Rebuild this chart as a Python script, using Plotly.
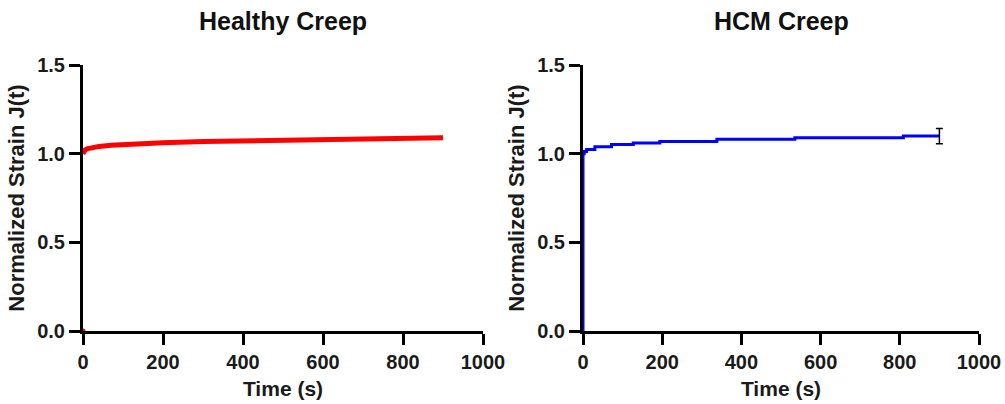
import plotly.graph_objects as go

# Healthy creep (mean curve)
healthy_t = [0, 2, 5, 10, 20, 40, 70, 100, 150, 200, 300, 400, 500, 600, 700, 800, 900]
healthy_j = [1.0, 1.012, 1.02, 1.027, 1.034, 1.041, 1.047, 1.052, 1.058, 1.062, 1.068,
             1.072, 1.076, 1.080, 1.084, 1.087, 1.090]

# HCM creep (step-like curve)
hcm_t = [0, 0, 3, 9, 30, 72, 127, 194, 338, 535, 809, 900]
hcm_j = [0.0, 1.0, 1.012, 1.024, 1.039, 1.052, 1.06, 1.069, 1.081, 1.09, 1.099, 1.099]
hcm_err_t = [900]
hcm_err_j = [1.099]
hcm_err = [0.043]

titles = ["Healthy Creep", "HCM Creep"]
x_ticks = [0, 200, 400, 600, 800, 1000]
y_ticks = [0.0, 0.5, 1.0, 1.5]

FONT = "Arial, Liberation Sans, sans-serif"
fig = go.Figure()

fig.add_trace(go.Scatter(x=healthy_t, y=healthy_j, mode="lines",
                         line=dict(color="#ff0000", width=5), xaxis="x", yaxis="y",
                         cliponaxis=False, showlegend=False))
fig.add_trace(go.Scatter(x=[0], y=[0], mode="markers",
                         marker=dict(color="#ff0000", size=5), xaxis="x", yaxis="y",
                         cliponaxis=False, showlegend=False))

fig.add_trace(go.Scatter(x=hcm_t, y=hcm_j, mode="lines", line_shape="hv",
                         line=dict(color="#0000ff", width=3), xaxis="x2", yaxis="y2",
                         cliponaxis=False, showlegend=False))
fig.add_trace(go.Scatter(x=hcm_err_t, y=hcm_err_j, mode="markers",
                         marker=dict(color="#0000ff", size=1, opacity=0),
                         error_y=dict(type="data", array=hcm_err, color="#000000",
                                      thickness=1.5, width=3.5),
                         xaxis="x2", yaxis="y2", cliponaxis=False, showlegend=False))


def xax(domain, anchor):
    return dict(domain=domain, anchor=anchor, range=[0, 1000], tickvals=x_ticks,
                automargin=False,
                showline=True, linecolor="black", linewidth=3, ticks="outside",
                ticklen=11, tickwidth=3, tickcolor="black", showgrid=False, zeroline=False,
                tickfont=dict(family=FONT, size=20, color="#1a1a1a", weight="bold"),
                title=dict(text="Time (s)", standoff=10,
                           font=dict(family=FONT, size=21, color="#1a1a1a", weight="bold")))


def yax(domain, anchor, layer="above traces"):
    return dict(domain=domain, anchor=anchor, range=[0, 1.5], tickvals=y_ticks,
                automargin=False,
                tickformat=".1f", showline=True, linecolor="black", linewidth=3,
                ticks="outside", ticklen=11, tickwidth=3, tickcolor="black",
                showgrid=False, zeroline=False, layer=layer,
                tickfont=dict(family=FONT, size=20, color="#1a1a1a", weight="bold"),
                title=dict(text="Normalized Strain J(t)", standoff=7,
                           font=dict(family=FONT, size=22, color="#1a1a1a", weight="bold")))


L, R, T, B = 83, 26, 65, 73
PW = 1005 - L - R
H = 404 - T - B
fig.update_layout(
    width=1005, height=404,
    margin=dict(l=L, r=R, t=T, b=B, autoexpand=False),
    paper_bgcolor="white", plot_bgcolor="white",
    xaxis=xax([0, 400 / PW], "y"),
    yaxis=yax([0, 1], "x"),
    xaxis2=xax([500 / PW, 1], "y2"),
    yaxis2=yax([0, 1], "x2", layer="below traces"),
)

for i, cx in enumerate([283, 781]):
    fig.add_annotation(text=titles[i], x=(cx - L) / PW, y=(404 - 21 - B) / H,
                       xref="paper", yref="paper", showarrow=False,
                       xanchor="center", yanchor="middle",
                       font=dict(family=FONT, size=25, color="#111111", weight="bold"))

fig.write_html("out.html")
